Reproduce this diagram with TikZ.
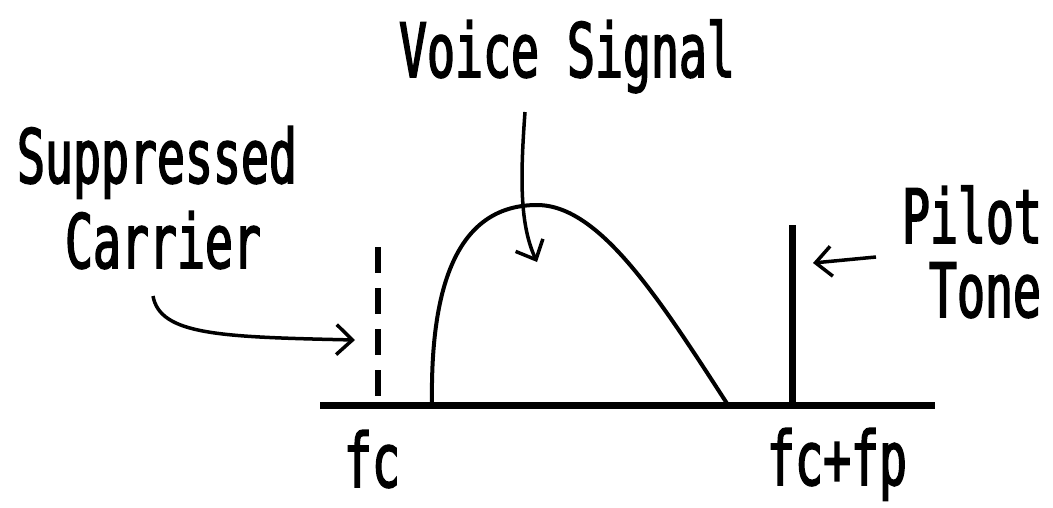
\documentclass[tikz,border=0pt]{standalone}
\usepackage{fontspec}
\setmainfont{DejaVu Sans Mono}[FakeStretch=0.62,FakeBold=2]
\usetikzlibrary{arrows.meta}
\begin{document}
\begin{tikzpicture}[x=1pt,y=-1pt,
  lbl/.style={inner sep=0pt,anchor=base,font=\fontsize{75}{80}\selectfont},
  axisline/.style={line width=7pt},
  curveline/.style={line width=4pt},
  ptr/.style={line width=3.5pt,-{Straight Barb[length=16pt,width=30pt,line width=3.5pt]}}]
\useasboundingbox (0,0) rectangle (1053,507);
\fill[white] (0,0) rectangle (1053,507);
% axis
\coordinate (axL) at (320,405);
\coordinate (axR) at (935,405);
\draw[axisline] (axL) -- (axR);
% suppressed carrier (dashed)
\coordinate (scTop) at (378,247);
\coordinate (scBot) at (378,405);
\draw[line width=6pt,dash pattern=on 26pt off 15pt] (scTop) -- (scBot);
% pilot tone
\coordinate (ptTop) at (792,225);
\coordinate (ptBot) at (792,405);
\draw[axisline] (ptTop) -- (ptBot);
% voice signal spectrum
\coordinate (vsL) at (432,405);
\coordinate (vsPk) at (537,205);
\coordinate (vsR) at (728,405);
\draw[curveline] (vsL) .. controls (430,280) and (460,205) .. (vsPk)
  .. controls (600,205) and (660,300) .. (vsR);
% labels
\node[lbl] (voice) at (567,77) {Voice Signal};
\node[lbl] (supp) at (157,183) {Suppressed};
\node[lbl] (carr) at (163,268) {Carrier};
\node[lbl] (pilot) at (972,243) {Pilot};
\node[lbl] (tone) at (985,317) {Tone};
\node[lbl] (fc) at (372,487) {fc};
\node[lbl] (fcfp) at (837,485) {fc+fp};
% arrows
\coordinate (vaS) at (525,112);
\coordinate (vaE) at (537,262);
\draw[ptr] (vaS) .. controls (520,180) and (520,225) .. (vaE);
\coordinate (caS) at (153,296);
\coordinate (caE) at (355,340);
\draw[ptr] (caS) .. controls (160,335) and (220,337) .. (caE);
\coordinate (paS) at (876,257);
\coordinate (paE) at (813,263);
\draw[ptr] (paS) -- (paE);
\end{tikzpicture}
\end{document}
